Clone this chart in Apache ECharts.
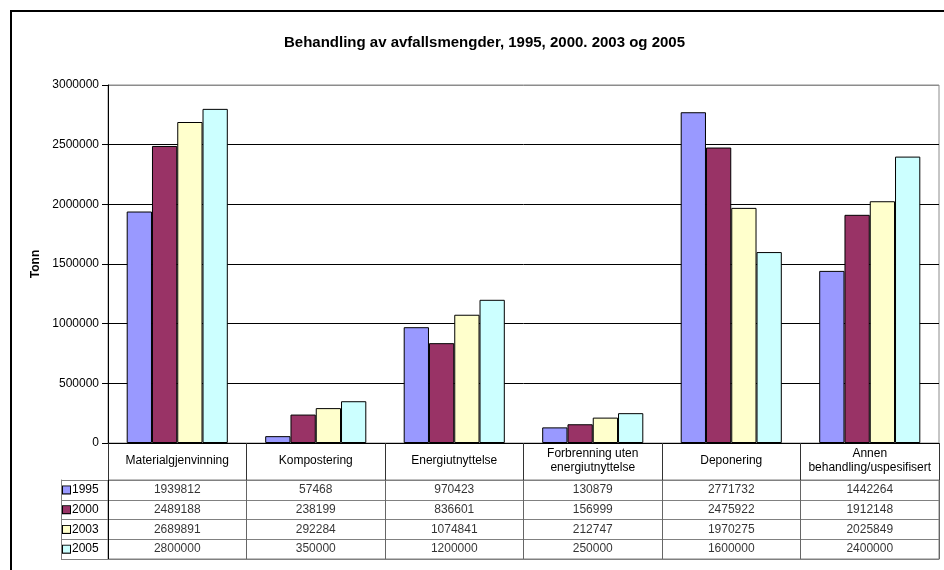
<!DOCTYPE html>
<html>
<head>
<meta charset="utf-8">
<script src="https://cdn.jsdelivr.net/npm/echarts@6/dist/echarts.min.js"></script>
<style>
html,body{margin:0;padding:0;background:#fff;}
#c{width:944px;height:570px;}
</style>
</head>
<body>
<div id="c"></div>
<script>
const categories = ['Materialgjenvinning', 'Kompostering', 'Energiutnyttelse', 'Forbrenning uten\nenergiutnyttelse', 'Deponering', 'Annen\nbehandling/uspesifisert'];
const years = ['1995', '2000', '2003', '2005'];
const v1995 = [1939812, 57468, 970423, 130879, 2771732, 1442264];
const v2000 = [2489188, 238199, 836601, 156999, 2475922, 1912148];
const v2003 = [2689891, 292284, 1074841, 212747, 1970275, 2025849];
const v2005 = [2800000, 350000, 1200000, 250000, 1600000, 2400000];
const yTicks = [0, 500000, 1000000, 1500000, 2000000, 2500000, 3000000];
const colors = ['#9999FF', '#993366', '#FFFFCC', '#CCFFFF'];
const seriesValues = [v1995, v2000, v2003, v2005];

const FONT = 'Liberation Sans, Arial, sans-serif';
const chart = echarts.init(document.getElementById('c'), null, {renderer: 'canvas'});

const rich = {};
years.forEach((y, j) => {
  rich['sq' + j] = {width: 7, height: 7, backgroundColor: colors[j], borderColor: '#000', borderWidth: 1, align: 'left'};
});
rich.t = {fontSize: 12, fontFamily: FONT, color: '#000', padding: [0, 0, 0, 2]};

const series = [];
years.forEach((y, j) => {
  series.push({
    name: y, type: 'bar', xAxisIndex: 0, yAxisIndex: 0,
    data: seriesValues[j],
    barGap: '0%', barCategoryGap: '27%',
    itemStyle: {color: colors[j], borderColor: '#000', borderWidth: 1},
    silent: true
  });
});
years.forEach((y, j) => {
  series.push({
    name: 'tbl' + y, type: 'scatter', xAxisIndex: 1, yAxisIndex: 1,
    symbolSize: 1, itemStyle: {color: 'rgba(0,0,0,0)'},
    data: seriesValues[j].map((v, i) => [i, j, v]),
    label: {show: true, position: 'inside', formatter: p => String(p.value[2]),
      fontSize: 12, fontFamily: FONT, color: '#000'},
    silent: true
  });
});

const option = {
  animation: false,
  backgroundColor: '#fff',
  title: {
    text: 'Behandling av avfallsmengder, 1995, 2000. 2003 og 2005',
    left: 284, top: 35, padding: 0,
    textStyle: {fontSize: 15, fontWeight: 'bold', fontFamily: FONT, color: '#000'}
  },
  graphic: [{
    type: 'polyline', silent: true,
    shape: {points: [[11, 600], [11, 11], [1000, 11]]},
    style: {stroke: '#000', lineWidth: 2, fill: null}
  }],
  grid: [
    {left: 108, right: 5, top: 85, bottom: 127, show: true, borderColor: '#8c8c8c', borderWidth: 1, backgroundColor: '#fff'},
    {left: 108, right: 5, top: 480, bottom: 11, show: true, borderColor: '#808080', borderWidth: 1}
  ],
  xAxis: [
    {
      type: 'category', gridIndex: 0, data: categories, boundaryGap: true,
      axisLine: {lineStyle: {color: '#000', width: 1}},
      axisTick: {show: true, interval: 0, length: 37, lineStyle: {color: '#333'}},
      axisLabel: {interval: 0, margin: 18, verticalAlign: 'middle', fontSize: 12, lineHeight: 14, fontFamily: FONT, color: '#000', align: 'center'},
      splitLine: {show: false}
    },
    {
      type: 'category', gridIndex: 1, data: categories, boundaryGap: true,
      axisLine: {show: true, lineStyle: {color: '#808080'}},
      axisTick: {show: false},
      axisLabel: {show: false},
      splitLine: {show: true, interval: 0, lineStyle: {color: '#666'}}
    }
  ],
  yAxis: [
    {
      type: 'value', gridIndex: 0, min: 0, max: 3000000, interval: 500000,
      name: 'Tonn', nameLocation: 'middle', nameRotate: 90, nameGap: 63,
      nameTextStyle: {fontSize: 12, fontWeight: 'bold', fontFamily: FONT, color: '#000'},
      axisLine: {show: true, lineStyle: {color: '#000'}},
      axisTick: {show: true, length: 6, lineStyle: {color: '#000'}},
      axisLabel: {fontSize: 12, fontFamily: FONT, color: '#000', margin: 9,
        formatter: v => yTicks.includes(v) ? String(v) : ''},
      splitLine: {show: true, lineStyle: {color: ['#000', '#000', '#000', '#000', '#000', '#000', '#8c8c8c'], width: 1}}
    },
    {
      type: 'category', gridIndex: 1, data: years, inverse: true, boundaryGap: true,
      axisLine: {show: true, lineStyle: {color: '#000'}},
      axisTick: {show: true, interval: 0, length: 47, lineStyle: {color: '#808080'}},
      axisLabel: {interval: 0, margin: 45, align: 'left',
        formatter: (v, idx) => '{sq' + idx + '|}{t|' + v + '}', rich: rich},
      splitLine: {show: true, interval: 0, lineStyle: {color: '#808080'}}
    },
    {
      type: 'category', gridIndex: 1, data: years, inverse: true, position: 'left', offset: 47,
      axisLine: {show: true, lineStyle: {color: '#808080'}},
      axisTick: {show: false}, axisLabel: {show: false}, splitLine: {show: false}
    }
  ],
  series: series
};
chart.setOption(option);
</script>
</body>
</html>
